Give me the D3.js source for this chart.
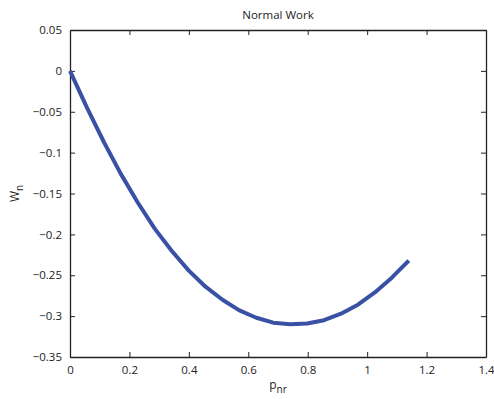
<!DOCTYPE html>
<html>
<head>
<meta charset="utf-8">
<script src="https://cdn.jsdelivr.net/npm/d3@7"></script>
<style>
  html, body { margin: 0; padding: 0; background: #fff; }
  svg { display: block; font-family: "Open Sans", "DejaVu Sans", sans-serif; }
</style>
</head>
<body>
<svg id="chart" width="494" height="399"></svg>
<script>
// Normalised pressure ratio and the resulting normal work
const pnr = [0, 0.057, 0.114, 0.171, 0.228, 0.285, 0.342, 0.399, 0.456, 0.513,
             0.570, 0.627, 0.684, 0.741, 0.798, 0.855, 0.912, 0.969, 1.026, 1.083, 1.140];
const wn  = [0, -0.045, -0.087, -0.126, -0.161, -0.193, -0.220, -0.244, -0.264, -0.280,
             -0.293, -0.302, -0.308, -0.310, -0.309, -0.305, -0.297, -0.286, -0.271, -0.253, -0.232];
const xTicks = [0, 0.2, 0.4, 0.6, 0.8, 1, 1.2, 1.4];
const yTicks = [0.05, 0, -0.05, -0.1, -0.15, -0.2, -0.25, -0.3, -0.35];

const svg = d3.select("#chart");
const plotL = 70, plotR = 486, plotT = 30, plotB = 357;

const x = d3.scaleLinear().domain([0, 1.4]).range([plotL, plotR]);
const y = d3.scaleLinear().domain([-0.35, 0.05]).range([plotB, plotT]);

const fmt = v => (v < 0 ? "\u2212" : "") + String(Math.abs(v));
const tickLen = 5;

// Axis box: bottom/left carry labels, top/right only inward ticks
const xAxis = d3.axisBottom(x).tickValues(xTicks).tickFormat(fmt).tickSizeInner(-tickLen).tickSizeOuter(0).tickPadding(9);
const yAxis = d3.axisLeft(y).tickValues(yTicks).tickFormat(fmt).tickSizeInner(-tickLen).tickSizeOuter(0).tickPadding(8);
const xTop = d3.axisTop(x).tickValues(xTicks).tickFormat("").tickSizeInner(-tickLen).tickSizeOuter(0);
const yRight = d3.axisRight(y).tickValues(yTicks).tickFormat("").tickSizeInner(-tickLen).tickSizeOuter(0);

function style(g) {
  g.selectAll(".domain").attr("stroke", "#222").attr("stroke-width", 1.3);
  g.selectAll(".tick line").attr("stroke", "#222").attr("stroke-width", 1);
  g.selectAll("text").attr("fill", "#222").attr("font-size", 11.5).attr("font-family", "\"Open Sans\", \"DejaVu Sans\", sans-serif");
}

svg.append("g").attr("transform", `translate(0,${plotB})`).call(xAxis).call(style);
svg.append("g").attr("transform", `translate(${plotL},0)`).call(yAxis).call(style);
svg.append("g").attr("transform", `translate(0,${plotT})`).call(xTop).call(style);
svg.append("g").attr("transform", `translate(${plotR},0)`).call(yRight).call(style);

// Curve
const line = d3.line().x((d, i) => x(pnr[i])).y(d => y(d));
svg.append("path")
  .datum(wn)
  .attr("d", line)
  .attr("fill", "none")
  .attr("stroke", "#3851a5")
  .attr("stroke-width", 4)
  .attr("stroke-linejoin", "round");

// Title
svg.append("text")
  .attr("x", (plotL + plotR) / 2).attr("y", 19)
  .attr("text-anchor", "middle")
  .attr("font-size", 11.5).attr("fill", "#222")
  .text("Normal Work");

// X label
const xl = svg.append("text")
  .attr("x", (plotL + plotR) / 2).attr("y", 389)
  .attr("text-anchor", "middle")
  .attr("font-size", 12).attr("fill", "#222");
xl.append("tspan").text("p");
xl.append("tspan").attr("dy", 4).attr("font-size", 10).text("nr");

// Y label
const yl = svg.append("text")
  .attr("transform", `translate(19,${(plotT + plotB) / 2}) rotate(-90)`)
  .attr("text-anchor", "middle")
  .attr("font-size", 12).attr("fill", "#222");
yl.append("tspan").text("W");
yl.append("tspan").attr("dy", 4).attr("font-size", 10).text("n");
</script>
</body>
</html>
